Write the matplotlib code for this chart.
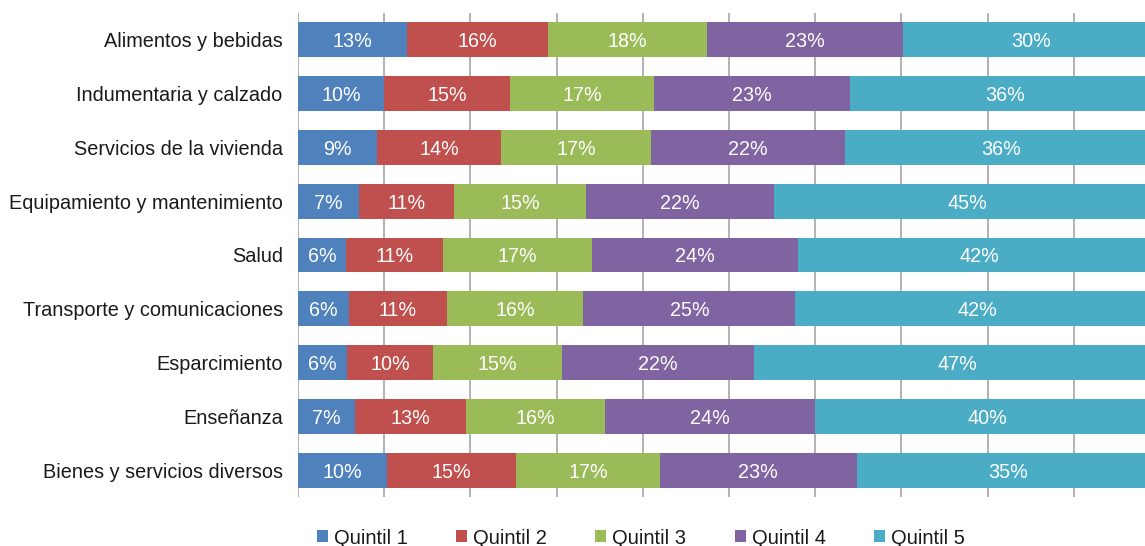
import matplotlib
matplotlib.use("Agg")
import matplotlib.pyplot as plt
from matplotlib.patches import Patch
import numpy as np

plt.rcParams['font.family'] = ['Liberation Sans', 'DejaVu Sans']

categories = [
    "Alimentos y bebidas",
    "Indumentaria y calzado",
    "Servicios de la vivienda",
    "Equipamiento y mantenimiento",
    "Salud",
    "Transporte y comunicaciones",
    "Esparcimiento",
    "Enseñanza",
    "Bienes y servicios diversos",
]

# share of spending per quintil (%)
quintil_1 = [12.6, 10.0, 9.2, 7.1, 5.6, 5.9, 5.7, 6.6, 10.3]
quintil_2 = [16.4, 14.6, 14.4, 11.0, 11.2, 11.4, 10.0, 12.9, 15.0]
quintil_3 = [18.4, 16.7, 17.4, 15.3, 17.3, 15.8, 14.9, 16.1, 16.7]
quintil_4 = [22.8, 22.7, 22.4, 21.8, 23.9, 24.6, 22.3, 24.4, 22.8]
quintil_5 = [29.8, 36.0, 36.4, 44.8, 42.0, 42.3, 47.1, 40.0, 35.2]

series = [quintil_1, quintil_2, quintil_3, quintil_4, quintil_5]
series_names = ["Quintil 1", "Quintil 2", "Quintil 3", "Quintil 4", "Quintil 5"]
colors = ["#4F81BD", "#C0504D", "#9BBB59", "#8064A2", "#4BACC6"]

fig = plt.figure(figsize=(11.45, 5.46), dpi=100)
# axes runs a bit past the right edge, like the cropped original
ax = fig.add_axes([298 / 1145, 1 - 497 / 546, 862 / 1145, 484 / 546])

y = np.arange(len(categories))
left = np.zeros(len(categories))
for vals, name, col in zip(series, series_names, colors):
    vals = np.array(vals)
    ax.barh(y, vals, left=left, height=0.65, color=col, label=name, zorder=3)
    for yi, v, l in zip(y, vals, left):
        ax.text(l + v / 2, yi, f"{v:.0f}%", ha="center", va="center_baseline",
                color="white", fontsize=14.2, zorder=4)
    left += vals

ax.set_xlim(0, 100)
ax.set_ylim(len(categories) - 0.5, -0.5)
ax.set_xticks(np.arange(0, 101, 10))
ax.set_xticklabels([])
ax.tick_params(axis="x", length=0)
ax.grid(axis="x", color="#A6A6A6", linewidth=1.2, zorder=0)
ax.set_yticks(y)
ax.set_yticklabels(categories, fontsize=14.3, color="#1a1a1a", va="center_baseline")
ax.tick_params(axis="y", length=0, pad=11)
for s in ax.spines.values():
    s.set_visible(False)

handles = [Patch(facecolor=c, edgecolor="none") for c in colors]
fig.legend(handles, series_names, loc="center", bbox_to_anchor=(641 / 1145, 1 - 538 / 546),
           ncol=5, frameon=False, fontsize=14.5, handlelength=0.55, handleheight=0.55,
           handletextpad=0.3, columnspacing=2.4, labelcolor="#1a1a1a")

fig.savefig("out.png", dpi=100)
